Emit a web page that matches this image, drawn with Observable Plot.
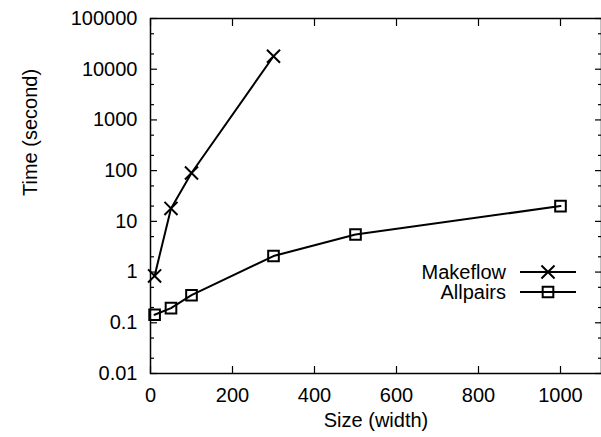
<!DOCTYPE html>
<html>
<head>
<meta charset="utf-8">
<script src="https://cdn.jsdelivr.net/npm/d3@7"></script>
<script src="https://cdn.jsdelivr.net/npm/@observablehq/plot@0.6"></script>
<style>
  html, body { margin: 0; padding: 0; background: #fff; }
  #chart svg { display: block; }
</style>
</head>
<body>
<div id="chart"></div>
<script>
// ---- data ----
const makeflowX = [10, 50, 100, 300];
const makeflowY = [0.84, 18, 90, 18000];
const allpairsX = [10, 50, 100, 300, 500, 1000];
const allpairsY = [0.144, 0.195, 0.35, 2.07, 5.5, 20];

const seriesNames = ["Makeflow", "Allpairs"];
const seriesSymbols = ["times", "square"];

const xTicks = [0, 200, 400, 600, 800, 1000];
const xTickLabels = ["0", "200", "400", "600", "800", "1000"];
const yTicks = [0.01, 0.1, 1, 10, 100, 1000, 10000, 100000];
const yTickLabels = ["0.01", "0.1", "1", "10", "100", "1000", "10000", "100000"];
const yMinorTicks = [0.02, 0.05, 0.2, 0.5, 2, 5, 20, 50, 200, 500, 2000, 5000, 20000, 50000];

const xLabel = "Size (width)";
const yLabel = "Time (second)";

// ---- build table ----
const rows = [
  ...makeflowX.map((x, i) => ({series: "Makeflow", x, y: makeflowY[i]})),
  ...allpairsX.map((x, i) => ({series: "Allpairs", x, y: allpairsY[i]}))
];

const FONT = "'Liberation Sans', Arial, Helvetica, sans-serif";
const FS = 20;

const yFmt = d => yTickLabels[yTicks.indexOf(d)];
const xFmt = d => xTickLabels[xTicks.indexOf(d)];

const chart = Plot.plot({
  width: 601,
  height: 437,
  marginLeft: 150,
  marginRight: 0,
  marginTop: 18,
  marginBottom: 64,
  style: {fontFamily: FONT, fontSize: FS + "px", color: "#000", background: "#fff", overflow: "visible"},
  x: {domain: [0, 1100]},
  y: {type: "log", domain: [0.01, 100000]},
  symbol: {domain: seriesNames, range: seriesSymbols},
  marks: [
    Plot.frame({stroke: "#000", strokeWidth: 1.5}),
    // y labels
    Plot.axisY(yTicks, {anchor: "left", tickSize: 0, tickPadding: 13, tickFormat: yFmt, label: null, fontSize: FS}),
    // y major ticks (inward, both sides)
    Plot.axisY(yTicks, {anchor: "left", tickSize: 7, dx: 7, fill: "none", label: null, strokeWidth: 1.2}),
    Plot.axisY(yTicks, {anchor: "right", tickSize: 7, dx: -7, fill: "none", label: null, strokeWidth: 1.2}),
    // y minor ticks
    Plot.axisY(yMinorTicks, {anchor: "left", tickSize: 4, dx: 4, fill: "none", label: null, strokeWidth: 1.2}),
    Plot.axisY(yMinorTicks, {anchor: "right", tickSize: 4, dx: -4, fill: "none", label: null, strokeWidth: 1.2}),
    // x labels
    Plot.axisX(xTicks, {anchor: "bottom", tickSize: 0, tickPadding: 14, tickFormat: xFmt, label: null, fontSize: FS}),
    // x ticks inward
    Plot.axisX(xTicks, {anchor: "bottom", tickSize: 7, dy: -7, fill: "none", label: null, strokeWidth: 1.2}),
    Plot.axisX(xTicks, {anchor: "top", tickSize: 7, dy: 7, fill: "none", label: null, strokeWidth: 1.2}),
    // axis titles
    Plot.text([yLabel], {text: d => d, frameAnchor: "left", dx: -120, rotate: -90, fontSize: FS, fill: "#000"}),
    Plot.text([xLabel], {text: d => d, frameAnchor: "bottom", dy: 53, fontSize: FS, fill: "#000"}),
    // series
    Plot.line(rows, {x: "x", y: "y", z: "series", stroke: "#000", strokeWidth: 2}),
    Plot.dot(rows, {x: "x", y: "y", symbol: "series", r: 6, stroke: "#000", fill: "none", strokeWidth: 2})
  ]
});

document.getElementById("chart").appendChild(chart);

// ---- legend (inside plot, right side) ----
const svg = d3.select(chart);
const lg = svg.append("g").attr("font-family", FONT).attr("font-size", FS);
const legendRight = 506, lineX1 = 520, lineX2 = 576, legendTop = 272, legendStep = 20;
const symMap = {times: d3.symbolTimes, square: d3.symbolSquare};
seriesNames.forEach((name, i) => {
  const y = legendTop + i * legendStep;
  lg.append("text").attr("x", legendRight).attr("y", y).attr("dy", "0.35em")
    .attr("text-anchor", "end").attr("fill", "#000").text(name);
  lg.append("line").attr("x1", lineX1).attr("x2", lineX2).attr("y1", y).attr("y2", y)
    .attr("stroke", "#000").attr("stroke-width", 2);
  lg.append("path").attr("transform", `translate(${(lineX1 + lineX2) / 2},${y})`)
    .attr("d", d3.symbol(symMap[seriesSymbols[i]], Math.PI * 36)())
    .attr("fill", "none").attr("stroke", "#000").attr("stroke-width", 2);
});
</script>
</body>
</html>
